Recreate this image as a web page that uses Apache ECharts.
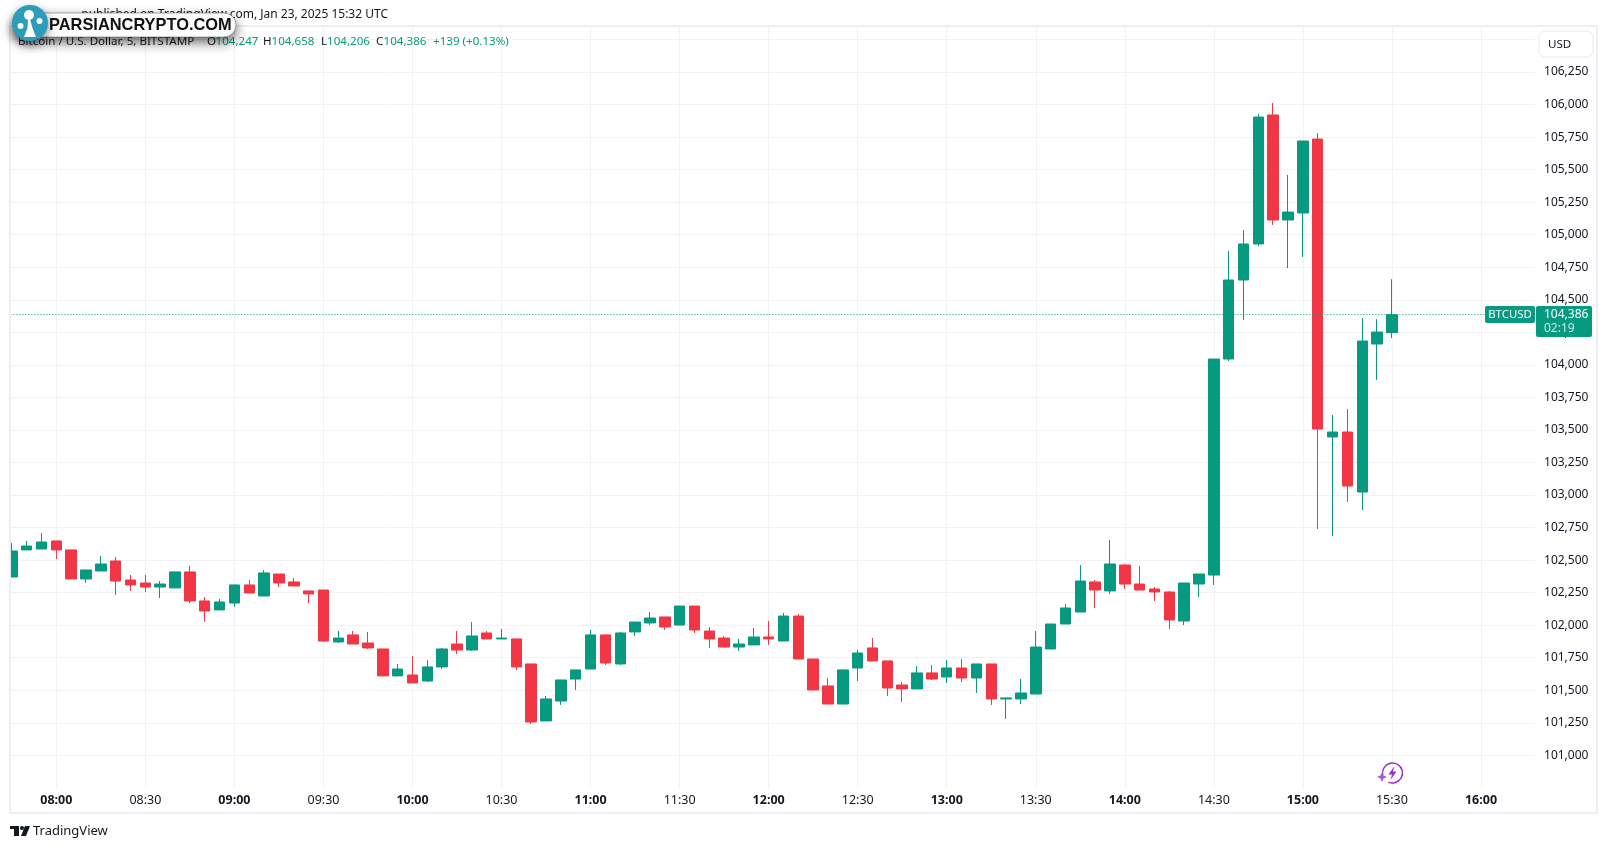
<!DOCTYPE html>
<html>
<head>
<meta charset="utf-8">
<title>BTCUSD 5m</title>
<script src="https://cdn.jsdelivr.net/npm/echarts@6/dist/echarts.min.js"></script>
<style>
    html, body {margin: 0; padding: 0; background: #fff;}
    #chart {width: 1607px; height: 849px;}
</style>
</head>
<body>
<div id="chart"></div>
<script>
// 5-минутные свечи, значения
let opens = [
    102370, 102578, 102585, 102647, 102578, 102355, 102416, 102493, 102347, 102324,
    102293, 102286, 102409, 102186, 102117, 102170, 102309, 102224, 102393, 102332,
    102263, 102270, 101871, 101925, 101863, 101817, 101610, 101617, 101571, 101679,
    101855, 101809, 101940, 101894, 101894, 101702, 101264, 101417, 101586, 101663,
    101925, 101702, 101948, 102017, 102063, 102001, 102147, 101955, 101901, 101832,
    101848, 101909, 101878, 102070, 101740, 101533, 101394, 101671, 101825, 101725,
    101540, 101510, 101633, 101602, 101671, 101594, 101702, 101433, 101433, 101471,
    101817, 102009, 102101, 102332, 102263, 102462, 102316, 102278, 102255, 102032,
    102316, 102385, 104045, 104652, 104929, 105920, 105113, 105167, 105735, 103446,
    103484, 103023, 104160, 104247,
]
let closes = [
    102570, 102608, 102639, 102578, 102355, 102424, 102470, 102339, 102309, 102293,
    102316, 102409, 102186, 102109, 102178, 102309, 102247, 102401, 102324, 102301,
    102240, 101878, 101901, 101855, 101825, 101610, 101663, 101556, 101679, 101817,
    101809, 101917, 101894, 101901, 101679, 101256, 101433, 101579, 101656, 101925,
    101709, 101940, 102024, 102055, 101986, 102147, 101963, 101894, 101832, 101855,
    101909, 101894, 102070, 101740, 101502, 101394, 101656, 101786, 101725, 101517,
    101510, 101633, 101586, 101671, 101594, 101702, 101433, 101441, 101479, 101832,
    102009, 102132, 102339, 102270, 102470, 102316, 102270, 102255, 102040, 102324,
    102393, 104045, 104652, 104929, 105904, 105113, 105174, 105720, 103507, 103484,
    103069, 104183, 104252, 104386,
]
let lows = [
    102370, 102578, 102585, 102508, 102355, 102324, 102416, 102232, 102263, 102255,
    102209, 102286, 102170, 102024, 102117, 102140, 102247, 102224, 102293, 102301,
    102170, 101878, 101863, 101855, 101817, 101610, 101610, 101556, 101563, 101663,
    101779, 101802, 101894, 101894, 101656, 101241, 101264, 101387, 101502, 101663,
    101694, 101694, 101917, 102001, 101963, 102001, 101940, 101825, 101832, 101802,
    101848, 101848, 101878, 101740, 101502, 101394, 101394, 101571, 101725, 101456,
    101410, 101510, 101579, 101556, 101563, 101479, 101387, 101279, 101394, 101471,
    101817, 102009, 102101, 102132, 102240, 102278, 102270, 102186, 101971, 102001,
    102216, 102309, 104030, 104345, 104913, 105075, 104744, 104829, 102739, 102685,
    102946, 102885, 103884, 104206,
]
let highs = [
    102631, 102647, 102708, 102647, 102578, 102424, 102531, 102524, 102385, 102385,
    102339, 102409, 102455, 102216, 102201, 102309, 102347, 102424, 102393, 102362,
    102263, 102270, 101955, 101955, 101948, 101817, 101702, 101763, 101732, 101825,
    101955, 102024, 101955, 101971, 101894, 101702, 101456, 101579, 101656, 101963,
    101925, 101948, 102024, 102101, 102063, 102147, 102147, 101986, 101917, 101894,
    101978, 102032, 102094, 102086, 101740, 101594, 101656, 101809, 101901, 101725,
    101563, 101686, 101694, 101732, 101740, 101702, 101702, 101441, 101586, 101955,
    102009, 102163, 102462, 102347, 102654, 102470, 102455, 102293, 102263, 102324,
    102393, 104045, 104875, 105036, 105927, 106012, 105459, 105720, 105781, 103615,
    103661, 104360, 104352, 104658,
]

// подписи оси времени, 07:45 .. 16:15 с шагом 5 минут
let timeLabels = [
    '07:45', '07:50', '07:55',
    '08:00', '08:05', '08:10', '08:15', '08:20', '08:25', '08:30', '08:35', '08:40', '08:45', '08:50', '08:55',
    '09:00', '09:05', '09:10', '09:15', '09:20', '09:25', '09:30', '09:35', '09:40', '09:45', '09:50', '09:55',
    '10:00', '10:05', '10:10', '10:15', '10:20', '10:25', '10:30', '10:35', '10:40', '10:45', '10:50', '10:55',
    '11:00', '11:05', '11:10', '11:15', '11:20', '11:25', '11:30', '11:35', '11:40', '11:45', '11:50', '11:55',
    '12:00', '12:05', '12:10', '12:15', '12:20', '12:25', '12:30', '12:35', '12:40', '12:45', '12:50', '12:55',
    '13:00', '13:05', '13:10', '13:15', '13:20', '13:25', '13:30', '13:35', '13:40', '13:45', '13:50', '13:55',
    '14:00', '14:05', '14:10', '14:15', '14:20', '14:25', '14:30', '14:35', '14:40', '14:45', '14:50', '14:55',
    '15:00', '15:05', '15:10', '15:15', '15:20', '15:25', '15:30', '15:35', '15:40', '15:45', '15:50', '15:55',
    '16:00', '16:05', '16:10', '16:15',
]

let UP = '#089981'
let DOWN = '#F23645'
let TEXT = '#131722'
let GRID = '#f2f2f4'
let FRAME = '#eeeff5'
let FONT = '"Noto Sans", sans-serif'

function fmt(v) {
    return v.toLocaleString('en-US')
}

let last = opens.length - 1
let change = closes[last] - opens[last]

function isHalfHour(index, value) {
    return value.endsWith(':00') || value.endsWith(':30')
}

function text(x, y, str, fill, font, align) {
    return {
        type: 'text', z: 30,
        style: {
            x: x, y: y, text: str, fill: fill,
            font: font || '11.6px ' + FONT,
            align: align || 'left', verticalAlign: 'middle',
        },
    }
}

function rect(x, y, w, h, r, style) {
    return {type: 'rect', z: 20, shape: {x: x, y: y, width: w, height: h, r: r}, style: style}
}

function circle(cx, cy, r, style) {
    return {type: 'circle', z: 42, shape: {cx: cx, cy: cy, r: r}, style: style}
}

function poly(points, fill, z) {
    return {type: 'polygon', z: z || 42, shape: {points: points}, style: {fill: fill}}
}

// шапка: OHLC последней свечи (x буквы, сдвиг значения, буква, цена)
let legendItems = [
    [207, 8.5, 'O', opens[last]],
    [263, 8.5, 'H', highs[last]],
    [321, 6, 'L', lows[last]],
    [376, 7.5, 'C', closes[last]],
]
let legend = []
legendItems.forEach((it) => {
    legend.push(text(it[0], 41.5, it[2], TEXT))
    legend.push(text(it[0] + it[1], 41.5, fmt(it[3]), UP))
})

let chart = echarts.init(document.getElementById('chart'), null, {renderer: 'canvas'})

chart.setOption({
    animation: false,
    backgroundColor: '#fff',
    grid: {left: 4.4, width: 1528.52, top: 27, height: 760.84},
    xAxis: {
        type: 'category',
        data: timeLabels,
        axisLine: {show: false},
        axisTick: {show: false, alignWithLabel: true},
        splitLine: {
            show: true,
            alignWithLabel: true,
            interval: isHalfHour,
            lineStyle: {color: GRID, width: 1},
        },
        axisLabel: {
            interval: isHalfHour,
            margin: 6,
            formatter: (value) => value.endsWith(':00') ? '{b|' + value + '}' : '{n|' + value + '}',
            rich: {
                b: {fontFamily: FONT, fontSize: 12.5, fontWeight: 'bold', color: TEXT},
                n: {fontFamily: FONT, fontSize: 12.5, color: TEXT},
            },
        },
    },
    yAxis: {
        type: 'value',
        position: 'right',
        min: 100750,
        max: 106596,
        interval: 250,
        axisLine: {show: false},
        axisTick: {show: true, length: 2.1, lineStyle: {color: GRID}},
        splitLine: {
            show: true,
            showMinLine: false,
            showMaxLine: false,
            lineStyle: {color: GRID, width: 1},
        },
        axisLabel: {
            margin: 11.1,
            padding: [0, 0, 2, 0],
            showMinLabel: false,
            showMaxLabel: false,
            fontFamily: FONT,
            fontSize: 12,
            color: TEXT,
            formatter: (v) => fmt(v),
        },
    },
    series: [{
        type: 'candlestick',
        barWidth: 11,
        data: opens.map((o, i) => [o, closes[i], lows[i], highs[i]]),
        itemStyle: {
            color: UP,
            color0: DOWN,
            borderColor: UP,
            borderColor0: DOWN,
            borderWidth: 1,
        },
        markLine: {
            silent: true,
            symbol: 'none',
            label: {show: false},
            lineStyle: {color: UP, type: [1, 2], width: 1},
            data: [{yAxis: closes[last]}],
        },
    }],
    graphic: {elements: [
        // рамка графика и шкала цен
        rect(0, 0, 10, 849, 0, {fill: '#fff'}),
        rect(10, 26, 1587, 787, 0, {fill: 'none', stroke: FRAME, lineWidth: 2}),
        rect(1539, 31, 54, 26, 6, {fill: '#fff', stroke: '#f0f1f6', lineWidth: 1.5}),
        text(1548, 44.5, 'USD', TEXT),

        // метки последней цены
        rect(1485, 306, 50, 17, 2, {fill: UP}),
        text(1510, 314.5, 'BTCUSD', '#fff', '11.4px ' + FONT, 'center'),
        rect(1536, 306, 56, 31, 2, {fill: UP}),
        text(1544, 314.5, fmt(closes[last]), '#fff', '12px ' + FONT),
        text(1544, 329, '02:19', '#cdeae4', '12px ' + FONT),

        // шапка
        text(388, 15, 'published on TradingView.com, Jan 23, 2025 15:32 UTC', TEXT, '12px ' + FONT, 'right'),
        text(18, 41.5, 'Bitcoin / U.S. Dollar, 5, BITSTAMP', TEXT),
        ...legend,
        text(433, 41.5, '+' + change + ' (+0.13%)', UP),

        // логотип-водяной знак
        {
            type: 'rect', z: 40,
            shape: {x: 14, y: 13, width: 222, height: 24, r: 12},
            style: {fill: '#fff', stroke: '#555', lineWidth: 0.5, shadowBlur: 12, shadowOffsetY: 5, shadowColor: 'rgba(0,0,0,0.6)'},
        },
        {
            type: 'circle', z: 41,
            shape: {cx: 30, cy: 23, r: 18},
            style: {fill: '#2d9cbb', shadowBlur: 10, shadowOffsetY: 4, shadowColor: 'rgba(0,0,0,0.5)'},
        },
        circle(29, 15, 5, {fill: '#fff'}),
        circle(20.5, 26, 3, {fill: '#fff'}),
        circle(39.5, 21, 3, {fill: '#fff'}),
        poly([[24, 37], [36, 37], [32.5, 28], [30, 19], [28, 19], [27.5, 28]], '#fff'),
        {
            type: 'text', z: 42,
            style: {x: 49, y: 25.5, text: 'PARSIANCRYPTO.COM', fill: '#111', font: 'bold 16.4px "Liberation Sans", sans-serif', verticalAlign: 'middle'},
        },

        // значок с молнией у оси времени
        {
            type: 'arc', z: 20,
            shape: {cx: 1392.5, cy: 773, r: 10, startAngle: 2.9, endAngle: 2.0},
            style: {fill: 'none', stroke: '#9c2fbf', lineWidth: 1.4},
        },
        poly([[1394.5, 766], [1388.5, 774.5], [1392, 774.5], [1390.5, 780], [1396.5, 771.5], [1393, 771.5]], '#9c2fbf', 20),
        poly([[1382, 772], [1383.5, 775.5], [1387, 777], [1383.5, 778.5], [1382, 782], [1380.5, 778.5], [1377, 777], [1380.5, 775.5]], '#a855e0', 20),

        // подпись TradingView внизу
        rect(10, 826, 9, 3, 0, {fill: TEXT}),
        rect(14, 826, 5, 10, 0, {fill: TEXT}),
        circle(22, 828, 2, {fill: TEXT}),
        poly([[25, 826], [30, 826], [26, 836], [21, 836]], TEXT, 20),
        text(33, 831, 'TradingView', TEXT, '13px ' + FONT),
    ]},
})
</script>
</body>
</html>
